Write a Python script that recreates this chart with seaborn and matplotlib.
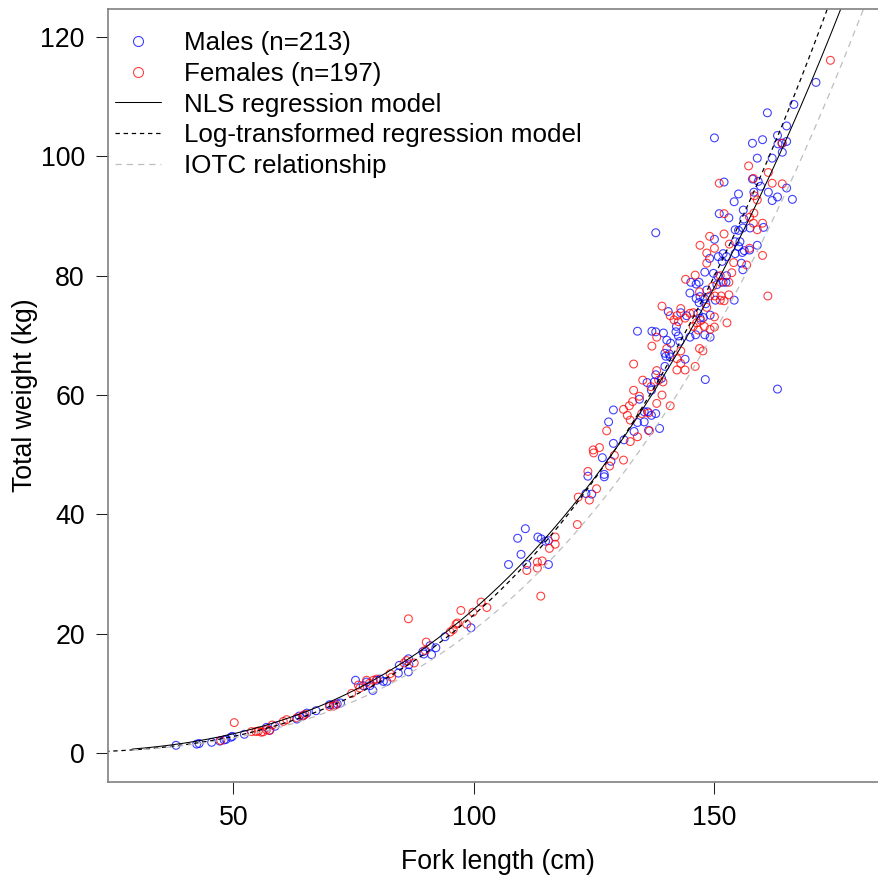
import numpy as np
import pandas as pd
import matplotlib
matplotlib.use("Agg")
import matplotlib.pyplot as plt
import seaborn as sns
from matplotlib.lines import Line2D

# ---------------- data ----------------
male_fl = [38.1, 42.4, 42.9, 45.5, 47.2, 48.1, 48.5, 49.5, 49.8, 52.3,
           56.9, 57.5, 58.7, 63.2, 63.7, 64.6, 65.3, 67.2, 70.0, 70.8,
           71.6, 72.3, 75.4, 77.0, 77.7, 78.4, 79.0, 79.8, 80.5, 81.2,
           81.9, 84.3, 84.5, 86.4, 86.5, 86.4, 89.4, 89.6, 90.9, 91.2,
           92.1, 94.0, 99.4,
           107.2, 109.8, 109.1, 110.7, 113.3, 114.0, 114.9, 115.5, 115.5, 111.0,
           123.3, 123.7, 124.5, 127.1, 126.7, 128.5, 127.1,
           166.5, 161.0, 165.0, 163.1, 165.0, 164.1, 163.2, 157.9, 160.0, 150.0,
           158.9, 162.0, 164.1, 157.9, 159.1, 152.0, 165.0, 166.2, 163.1, 162.0,
           161.2, 159.6, 158.2, 155.0, 154.1, 156.0, 151.0, 153.0, 156.1, 157.4,
           154.3, 155.0, 155.9, 160.2, 137.8, 150.0, 155.3, 154.3, 155.0, 155.8,
           158.9, 157.3, 156.2, 154.3, 151.8, 149.0, 148.0, 150.8, 151.6, 152.5,
           155.6, 155.9, 152.5, 150.7, 149.8, 145.1, 146.2, 146.8, 151.8, 152.4,
           150.5, 148.4, 144.9, 147.0, 146.2, 146.8, 150.2, 154.1, 148.0, 148.2,
           140.4, 143.0, 144.2, 146.6, 147.0, 147.7, 149.1, 142.1, 142.0, 134.0,
           137.0, 137.8, 139.4, 140.1, 140.9, 142.5, 142.8, 144.9, 146.1, 148.0,
           149.1, 139.7, 140.6, 139.9, 140.8, 143.9, 148.1, 163.1, 139.7, 137.8,
           136.0, 137.5, 139.0, 136.9, 134.4, 129.0, 135.4, 136.1, 136.9, 137.8,
           128.0, 134.0, 135.4, 138.6, 136.3, 133.3, 131.2, 129.0, 171.1]
male_w = [1.3, 1.5, 1.6, 1.8, 2.0, 2.2, 2.3, 2.65, 2.8, 3.15,
          4.3, 3.8, 4.5, 5.7, 6.2, 6.3, 6.7, 7.1, 8.1, 8.0,
          8.25, 8.4, 12.2, 11.3, 11.9, 11.3, 10.5, 12.2, 12.4, 12.0,
          12.0, 13.4, 14.7, 15.8, 14.8, 13.6, 17.0, 16.6, 18.0, 16.5,
          17.65, 19.5, 21.0,
          31.6, 33.3, 36.0, 37.6, 36.2, 35.9, 35.5, 35.6, 31.6, 31.6,
          43.5, 46.4, 43.4, 46.7, 49.5, 48.9, 46.3,
          108.7, 107.3, 105.1, 103.5, 102.5, 102.2, 102.1, 102.2, 102.8, 103.1,
          99.7, 99.7, 100.7, 96.2, 95.8, 95.7, 94.7, 92.8, 93.2, 92.6,
          94.0, 95.0, 94.0, 93.7, 92.4, 91.0, 90.4, 89.7, 89.5, 88.0,
          87.7, 87.6, 88.0, 88.1, 87.2, 86.1, 85.7, 85.7, 84.9, 83.9,
          85.1, 84.3, 84.2, 83.7, 83.7, 82.9, 80.6, 83.2, 82.4, 83.2,
          82.1, 81.0, 80.0, 79.9, 80.4, 78.9, 78.6, 78.9, 78.9, 78.9,
          78.5, 77.6, 77.1, 76.5, 76.2, 75.5, 75.9, 75.9, 76.1, 75.3,
          74.0, 73.8, 73.3, 73.7, 72.9, 73.0, 73.4, 71.5, 70.6, 70.7,
          70.7, 70.6, 70.4, 69.2, 68.7, 69.9, 69.0, 69.7, 70.1, 70.1,
          69.7, 67.0, 66.9, 66.5, 66.4, 66.0, 62.6, 61.0, 64.8, 63.4,
          62.1, 62.2, 62.8, 60.8, 59.3, 57.5, 57.2, 57.2, 56.6, 56.9,
          55.5, 55.4, 55.5, 54.4, 54.1, 53.9, 52.5, 51.9, 112.4]

female_fl = [47.4, 50.2, 53.8, 54.7, 55.2, 55.8, 56.2, 56.9, 57.6, 58.1,
             60.4, 61.1, 63.2, 64.4, 64.9, 70.0, 70.8, 71.3, 74.6, 76.0,
             76.3, 77.7, 78.3, 79.1, 79.8, 82.6, 82.9, 85.5, 86.0, 87.6,
             90.1, 89.9, 86.4, 95.1, 95.7, 96.3, 96.6, 97.3, 98.5, 99.8,
             101.5, 102.7,
             113.9, 113.2, 114.2, 113.2, 111.0, 115.7, 116.9, 116.9, 121.5, 121.7,
             124.0, 125.5, 123.7, 124.9, 128.2, 129.2, 131.1,
             164.0, 157.1, 158.1, 151.0, 161.2, 162.0, 164.1, 158.9, 158.3, 152.0,
             158.2, 157.3, 158.1, 160.0, 158.9, 152.0, 149.0, 147.0, 150.0, 153.1,
             157.3, 160.0, 148.4, 148.4, 154.0, 156.7, 153.6, 151.2, 146.0, 144.0,
             151.3, 153.0, 149.6, 146.9, 149.0, 150.1, 151.4, 152.0, 151.2, 153.0,
             161.1, 152.6, 148.4, 139.1, 142.2, 143.0, 143.9, 144.9, 145.6, 146.3,
             147.2, 150.0, 140.8, 141.6, 142.5, 145.6, 146.6, 147.9, 149.1, 150.0,
             138.0, 137.0, 140.1, 143.0, 146.9, 147.6, 142.2, 146.0, 142.2, 143.0,
             143.9, 138.0, 138.4, 135.1, 133.2, 136.8, 139.3, 133.2, 134.4, 133.0,
             139.1, 138.0, 140.8, 132.3, 131.1, 131.9, 134.9, 136.3, 132.5, 127.6,
             136.5, 134.0, 132.5, 126.1, 124.8, 174.1]
female_w = [2.1, 5.1, 3.6, 3.6, 3.7, 3.5, 3.55, 3.9, 3.8, 4.7,
            5.3, 5.6, 5.9, 6.2, 6.5, 7.8, 7.85, 8.1, 10.0, 11.4,
            10.9, 12.2, 11.7, 12.2, 12.4, 13.3, 12.7, 15.1, 15.5, 15.1,
            18.6, 17.2, 22.5, 20.3, 20.7, 21.6, 21.8, 23.9, 21.6, 23.6,
            25.3, 24.4,
            26.3, 32.0, 32.2, 31.0, 30.6, 34.3, 36.2, 35.0, 38.3, 42.9,
            42.4, 44.3, 47.2, 50.3, 48.1, 49.9, 49.1,
            102.2, 98.4, 96.3, 95.5, 97.3, 95.5, 95.4, 92.7, 93.4, 90.4,
            90.5, 89.8, 88.8, 88.8, 87.7, 87.0, 86.6, 85.1, 84.6, 85.3,
            84.6, 83.4, 83.8, 82.1, 82.2, 81.8, 80.5, 80.0, 80.1, 79.4,
            78.9, 78.9, 78.2, 77.3, 76.6, 76.6, 76.6, 75.8, 75.9, 76.8,
            76.6, 72.1, 74.7, 74.9, 73.3, 74.5, 72.9, 73.7, 73.8, 72.1,
            72.5, 73.1, 73.3, 72.6, 72.3, 71.5, 70.9, 71.5, 71.0, 71.4,
            69.7, 68.2, 67.8, 67.4, 67.8, 67.4, 66.1, 64.8, 64.2, 65.3,
            64.2, 64.1, 62.5, 62.5, 65.2, 61.4, 62.2, 60.8, 59.8, 58.9,
            60.0, 58.6, 58.2, 58.2, 57.6, 56.6, 56.9, 57.0, 55.8, 54.0,
            54.0, 53.0, 52.2, 51.2, 50.8, 116.1]

# W = a * FL^b  (model parameters)
nls_a, nls_b = 3.82e-5, 2.90
log_a, log_b = 1.79e-5, 3.056
iotc_a, iotc_b = 1.80e-5, 3.03

legend_labels = ["Males (n=213)", "Females (n=197)", "NLS regression model",
                 "Log-transformed regression model", "IOTC relationship"]
x_ticks = [50, 100, 150]
y_ticks = [0, 20, 40, 60, 80, 100, 120]

# ---------------- plotting ----------------
sns.set_style("white")
plt.rcParams['font.family'] = ['Liberation Sans', 'DejaVu Sans']
plt.rcParams['text.color'] = 'black'
plt.rcParams['axes.labelcolor'] = 'black'

W_PX, H_PX = 879, 882
fig = plt.figure(figsize=(W_PX / 100, H_PX / 100), dpi=100)
ax = fig.add_axes([107.7 / W_PX, 1 - 781.7 / H_PX, 1 - 107.7 / W_PX, (781.7 - 9) / H_PX])

males = pd.DataFrame({"fl": male_fl, "w": male_w})
females = pd.DataFrame({"fl": female_fl, "w": female_w})

BLUE = (0, 0, 1, 0.75)
RED = (1, 0, 0, 0.75)
pt_kw = dict(marker="o", s=32, linewidth=0.8, facecolor="none", legend=False, ax=ax)
sns.scatterplot(data=males, x="fl", y="w", edgecolor=BLUE, **pt_kw)
sns.scatterplot(data=females, x="fl", y="w", edgecolor=RED, **pt_kw)

L_nls = np.linspace(29, 190, 300)
L_log = np.linspace(20, 190, 300)
L_iotc = np.linspace(29, 195, 300)
curves = [
    (L_nls, nls_a * L_nls ** nls_b, dict(color="black", linewidth=0.75, linestyle="-")),
    (L_log, log_a * L_log ** log_b, dict(color="black", linewidth=0.9, linestyle=(0, (3.5, 3)))),
    (L_iotc, iotc_a * L_iotc ** iotc_b, dict(color="#BEBEBE", linewidth=0.9, linestyle=(0, (5, 4)))),
]
for xs, ys, kw in curves:
    sns.lineplot(x=xs, y=ys, ax=ax, sort=False, estimator=None, **kw)

ax.set_xlim(23.9, 184.2)
ax.set_ylim(-4.8, 124.7)
ax.set_xticks(x_ticks)
ax.set_yticks(y_ticks)
ax.tick_params(axis="both", which="major", bottom=True, left=True, top=False, right=False,
               direction="out", length=8.5, width=0.75, colors="#222222",
               labelcolor="black", labelsize=19.3, pad=8)
for side in ["left", "bottom", "top"]:
    ax.spines[side].set_visible(True)
    ax.spines[side].set_color("#808080")
    ax.spines[side].set_linewidth(1.2)
ax.spines["right"].set_visible(False)

ax.set_xlabel("Fork length (cm)", fontsize=19.2)
ax.set_ylabel("Total weight (kg)", fontsize=19.2)
ax.xaxis.set_label_coords((498 - 107.7) / (W_PX - 107.7), -(862 - 781.7) / (781.7 - 9))
ax.yaxis.set_label_coords(-(107.7 - 25) / (W_PX - 107.7), 0.5)
ax.xaxis.label.set_va("center")
ax.yaxis.label.set_va("center")

handles = [
    Line2D([], [], marker="o", linestyle="none", markersize=7.2, markerfacecolor="none",
           markeredgecolor=BLUE, markeredgewidth=0.8),
    Line2D([], [], marker="o", linestyle="none", markersize=7.2, markerfacecolor="none",
           markeredgecolor=RED, markeredgewidth=0.8),
    Line2D([], [], color="black", linewidth=0.75),
    Line2D([], [], color="black", linewidth=0.9, linestyle=(0, (3.5, 3))),
    Line2D([], [], color="#BEBEBE", linewidth=0.9, linestyle=(0, (5, 4))),
]
ax.legend(handles, legend_labels, loc="upper left",
          frameon=False, fontsize=18.7, handlelength=1.8, handletextpad=0.85,
          labelspacing=0.26, borderaxespad=0.0, borderpad=0.0)
leg = ax.get_legend()
leg.set_bbox_to_anchor((7 / (W_PX - 107.7), 1.0 - 22 / (781.7 - 9)), transform=ax.transAxes)

fig.savefig("out.png", dpi=100)
